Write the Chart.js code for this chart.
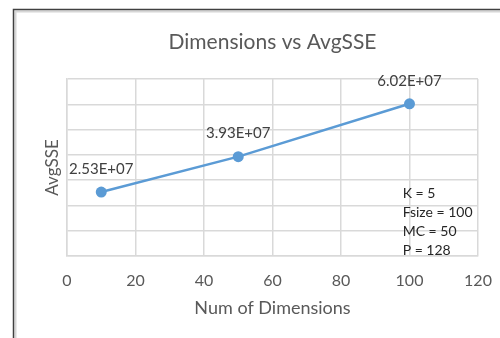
<!DOCTYPE html>
<html>
<head>
<meta charset="utf-8">
<script src="https://cdn.jsdelivr.net/npm/chart.js@4"></script>
<style>
  html, body { margin: 0; padding: 0; background: #ffffff; }
  #wrap { width: 500px; height: 338px; position: relative; }
</style>
</head>
<body>
<div id="wrap"><canvas id="chart" width="500" height="338"></canvas></div>
<script>
// Number of dimensions tested and the average SSE measured for each
const dimensions = [10, 50, 100];
const avgSSE = [2.53e7, 3.93e7, 6.02e7];
const pointLabels = ['2.53E+07', '3.93E+07', '6.02E+07'];
const xTicks = [0, 20, 40, 60, 80, 100, 120];
const paramNotes = ['K = 5', 'Fsize = 100', 'MC = 50', 'P = 128'];

const FONT = 'Lato, "Open Sans", "Liberation Sans", sans-serif';
const GRID = '#d9d9d9';

// Outer frame of the chart object: dark edge with a soft inner line
const framePlugin = {
  id: 'frame',
  beforeDraw(chart) {
    const ctx = chart.ctx;
    ctx.save();
    ctx.fillStyle = '#ffffff';
    ctx.fillRect(0, 0, chart.width, chart.height);
    ctx.strokeStyle = '#d6d6d6';
    ctx.lineWidth = 2;
    ctx.beginPath();
    ctx.moveTo(15.5, chart.height + 5);
    ctx.lineTo(15.5, 11.5);
    ctx.lineTo(chart.width + 5, 11.5);
    ctx.stroke();
    ctx.strokeStyle = '#404040';
    ctx.lineWidth = 1.5;
    ctx.beginPath();
    ctx.moveTo(13.5, chart.height + 5);
    ctx.lineTo(13.5, 9.5);
    ctx.lineTo(chart.width + 5, 9.5);
    ctx.stroke();
    ctx.restore();
  }
};

// Value labels above each point, plus the parameter notes box
const labelPlugin = {
  id: 'valueLabels',
  afterDatasetsDraw(chart) {
    const ctx = chart.ctx;
    const meta = chart.getDatasetMeta(0);
    ctx.save();
    ctx.font = '15px ' + FONT;
    ctx.fillStyle = '#404040';
    ctx.textAlign = 'center';
    ctx.textBaseline = 'middle';
    meta.data.forEach((pt, i) => {
      ctx.fillText(pointLabels[i], pt.x, pt.y - 23);
    });
    const xs = chart.scales.x;
    const ys = chart.scales.y;
    const left = xs.getPixelForValue(98);
    const top = ys.getPixelForValue(2.53e7);
    ctx.font = '14px ' + FONT;
    ctx.textAlign = 'left';
    ctx.fillStyle = '#262626';
    paramNotes.forEach((t, i) => {
      ctx.fillText(t, left, top + 1 + i * 19);
    });
    ctx.restore();
  }
};

new Chart(document.getElementById('chart'), {
  type: 'line',
  data: {
    datasets: [{
      data: dimensions.map((d, i) => ({ x: d, y: avgSSE[i] })),
      borderColor: '#5b9bd5',
      backgroundColor: '#5b9bd5',
      borderWidth: 2.5,
      pointRadius: 5.5,
      pointBorderWidth: 0,
      pointHoverRadius: 5.5,
      tension: 0,
      fill: false
    }]
  },
  options: {
    responsive: false,
    animation: false,
    events: [],
    layout: { padding: { left: 14, right: 22, top: 0, bottom: 0 } },
    plugins: {
      legend: { display: false },
      tooltip: { enabled: false },
      title: {
        display: true,
        text: 'Dimensions vs AvgSSE',
        fullSize: false,
        color: '#595959',
        font: { family: FONT, size: 21, weight: 'normal', lineHeight: 1.2 },
        padding: { top: 29.4, bottom: 24.4 }
      }
    },
    scales: {
      x: {
        type: 'linear',
        min: 0,
        max: 120,
        afterBuildTicks(scale) { scale.ticks = xTicks.map(v => ({ value: v })); },
        afterFit(scale) {
          scale.height = 82;
          scale.paddingLeft = 0;
          scale.paddingRight = 0;
        },
        grid: { color: GRID, lineWidth: 1.5, drawTicks: false },
        border: { color: GRID, width: 1.5 },
        ticks: {
          color: '#595959',
          padding: 15,
          font: { family: FONT, size: 16 }
        },
        title: {
          display: true,
          text: 'Num of Dimensions',
          color: '#595959',
          font: { family: FONT, size: 18, lineHeight: 1.2 },
          padding: { top: 0, bottom: 19.2 }
        }
      },
      y: {
        type: 'linear',
        min: 0,
        max: 7e7,
        afterFit(scale) { scale.width = 53; },
        grid: { color: GRID, lineWidth: 1.5, drawTicks: false },
        border: { color: GRID, width: 1.5 },
        ticks: { display: false, stepSize: 1e7 },
        title: {
          display: true,
          text: 'AvgSSE',
          color: '#595959',
          font: { family: FONT, size: 17, lineHeight: 1.2 },
          padding: { top: 28.8, bottom: 0 }
        }
      }
    }
  },
  plugins: [framePlugin, labelPlugin]
});
</script>
</body>
</html>
